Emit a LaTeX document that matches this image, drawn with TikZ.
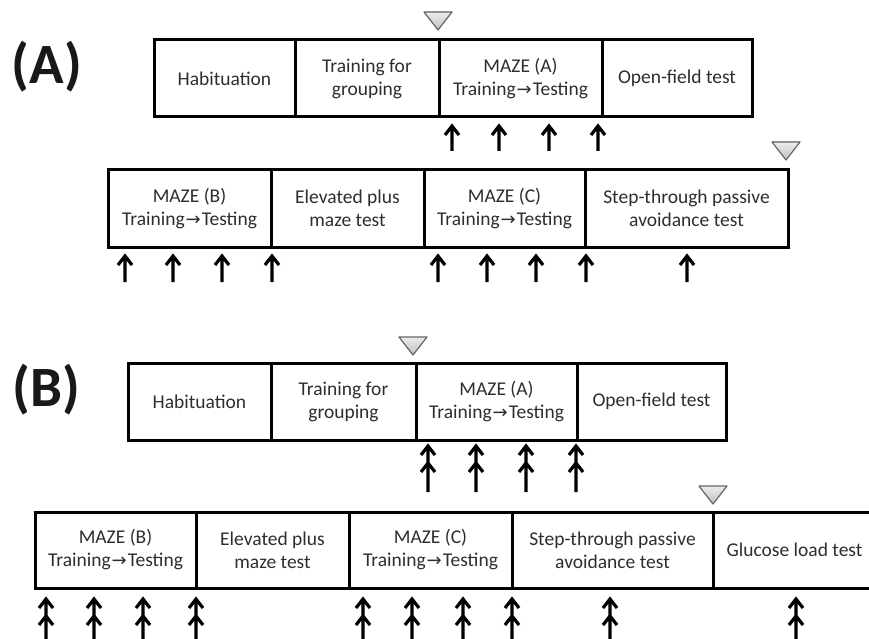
\documentclass[tikz,border=0pt]{standalone}
\usepackage{fontspec}
\setmainfont{Carlito}
\newfontfamily\arrowfont{DejaVu Sans}
\newcommand\ra{\hspace{1pt}{\arrowfont\fontsize{18}{23}\selectfont →}\hspace{1pt}}
\tikzset{
  cell/.style={draw=black, line width=3pt, fill=white, align=center, text=black!82,
    font=\fontsize{19.5}{23}\selectfont, inner sep=0pt},
  tri/.style={draw=black!60, line width=1.2pt, top color=gray!15, bottom color=gray!50, line join=round},
  arr/.style={line width=3.2pt, black, line join=miter, line cap=butt},
  panel/.style={font=\bfseries\fontsize{57}{57}\selectfont, text=black!90, inner sep=0pt}
}
\newcommand\uparr[3]{\draw[arr] (#1,#3) -- (#1,#2+1) (#1-7,#2+10) -- (#1,#2+1) -- (#1+7,#2+10);}
\newcommand\dblarr[3]{\draw[arr] (#1,#3) -- (#1,#2+1) (#1-7,#2+10) -- (#1,#2+1) -- (#1+7,#2+10) (#1-7,#2+27) -- (#1,#2+18) -- (#1+7,#2+27);}
\begin{document}
\begin{tikzpicture}[x=1pt,y=-1pt]
\useasboundingbox (0,0) rectangle (869,639);
\clip (0,0) rectangle (869,639);

% ---------- Panel A ----------
\node[panel] (labA) at (47,67) {(A)};

\node[cell, minimum width=141pt, minimum height=77pt] (a1) at (224.5,78.5) {Habituation};
\node[cell, minimum width=144pt, minimum height=77pt] (a2) at (367,78.5) {Training for\\grouping};
\node[cell, minimum width=163pt, minimum height=77pt] (a3) at (520.5,78.5) {MAZE (A)\\Training\ra Testing};
\node[cell, minimum width=150pt, minimum height=77pt] (a4) at (677,78.5) {Open-field test};

\filldraw[tri] (424,12) -- (452,12) -- (438,30) -- cycle;

\foreach \x in {452,499,549,598} {\uparr{\x}{125}{151}}

\node[cell, minimum width=163pt, minimum height=77pt] (a5) at (189.5,208.5) {MAZE (B)\\Training\ra Testing};
\node[cell, minimum width=153pt, minimum height=77pt] (a6) at (347.5,208.5) {Elevated plus\\maze test};
\node[cell, minimum width=161pt, minimum height=77pt] (a7) at (504.5,208.5) {MAZE (C)\\Training\ra Testing};
\node[cell, minimum width=203pt, minimum height=77pt] (a8) at (686.5,208.5) {Step-through passive\\avoidance test};

\filldraw[tri] (772,142) -- (800,142) -- (786,160) -- cycle;

\foreach \x in {125,173,222,272,438,487,536,586,687} {\uparr{\x}{255}{282}}

% ---------- Panel B ----------
\node[panel] (labB) at (46,390) {(B)};

\node[cell, minimum width=143pt, minimum height=77pt] (b1) at (199.5,401.5) {Habituation};
\node[cell, minimum width=145pt, minimum height=77pt] (b2) at (343.5,401.5) {Training for\\grouping};
\node[cell, minimum width=161pt, minimum height=77pt] (b3) at (496.5,401.5) {MAZE (A)\\Training\ra Testing};
\node[cell, minimum width=149pt, minimum height=77pt] (b4) at (651.5,401.5) {Open-field test};

\filldraw[tri] (399,337) -- (427,337) -- (413,355) -- cycle;

\foreach \x in {428,476,526,576} {\dblarr{\x}{445}{492}}

\node[cell, minimum width=161pt, minimum height=76pt] (b5) at (115.5,550) {MAZE (B)\\Training\ra Testing};
\node[cell, minimum width=153pt, minimum height=76pt] (b6) at (272.5,550) {Elevated plus\\maze test};
\node[cell, minimum width=163pt, minimum height=76pt] (b7) at (430.5,550) {MAZE (C)\\Training\ra Testing};
\node[cell, minimum width=201pt, minimum height=76pt] (b8) at (612.5,550) {Step-through passive\\avoidance test};
\node[cell, minimum width=163pt, minimum height=76pt] (b9) at (794.5,550) {Glucose load test};

\filldraw[tri] (699,486) -- (727,486) -- (713,504) -- cycle;

\foreach \x in {46,94,143,196,363,412,463,512,610,796} {\dblarr{\x}{598}{645}}
\end{tikzpicture}
\end{document}
